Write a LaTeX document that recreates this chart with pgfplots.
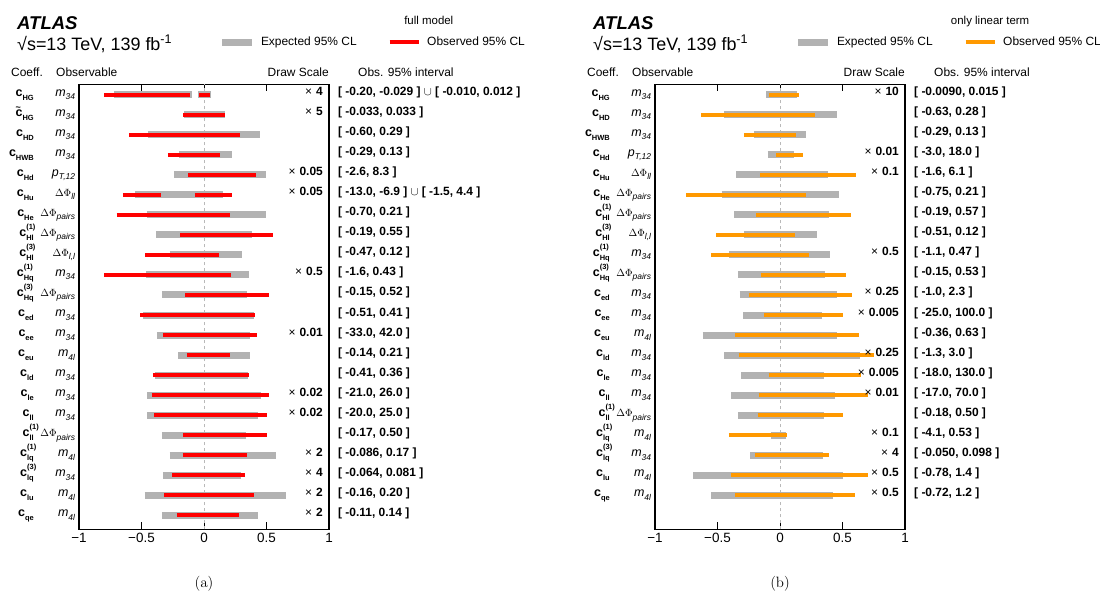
\RequirePackage{fix-cm}
\documentclass[border=0pt]{standalone}
\usepackage[no-math]{fontspec}
\setmainfont{Liberation Sans}
\usepackage{pgfplots}
\usepackage{pgfplotstable}
\pgfplotsset{compat=1.18}

\definecolor{expgray}{RGB}{178,178,178}
\definecolor{obsred}{RGB}{255,0,0}
\definecolor{obsorange}{RGB}{255,153,0}
\definecolor{zerogray}{RGB}{185,185,185}

% ---- label macros ----
\newcommand\bsub[1]{\raisebox{-4bp}{\fontsize{7.5}{8}\selectfont\bfseries #1}}
\newcommand\bsup[1]{\raisebox{7bp}{\fontsize{7.5}{8}\selectfont\bfseries #1}}
\newcommand\C[1]{{\fontsize{12.5}{13}\selectfont\bfseries c\bsub{#1}}}
\newcommand\CC[2]{{\fontsize{12.5}{13}\selectfont\bfseries c\rlap{\bsup{(#2)}}\bsub{#1}}}
\newcommand\Ct[1]{{\fontsize{12.5}{13}\selectfont\bfseries \rlap{\raisebox{5.5bp}{\fontsize{9}{9}\selectfont\textasciitilde}}c\bsub{#1}}}
\newcommand\isub[1]{\raisebox{-3.5bp}{\fontsize{8.5}{9}\selectfont\itshape #1}}
\newcommand\M[1]{{\fontsize{12.5}{13}\selectfont\itshape m\isub{#1}}}
\newcommand\PT{{\fontsize{12.5}{13}\selectfont\itshape p\isub{T,12}}}
\newcommand\DP[1]{{\fontsize{10.5}{11}\selectfont$\Delta\Phi$\isub{#1}}}
\newcommand\X[1]{{\fontsize{12}{13}\selectfont ×\hspace{4bp}\textbf{#1}}}

\newcommand\rowlab[5]{%
 \node[inner sep=0pt, anchor=base east, yshift=-1.5bp] at (axis cs:-1.36,#1) {#2};
 \node[inner sep=0pt, anchor=base east, yshift=-1.5bp] at (axis cs:-1.03,#1) {#3};
 \node[inner sep=0pt, anchor=base east, yshift=-1bp] at (axis cs:0.952,#1) {#4};
 \node[inner sep=0pt, anchor=base west, yshift=-1bp, font=\fontsize{12}{13}\selectfont\bfseries] at (axis cs:1.072,#1) {#5};%
}

\newcommand\header[1]{%
 \node[inner sep=0pt, anchor=base west, font=\fontsize{18.6}{20}\selectfont\bfseries\itshape] at (axis cs:-1.496,25.265) {ATLAS};
 \node[inner sep=0pt, anchor=base west, font=\fontsize{18}{20}\selectfont] at (axis cs:-1.496,24.23) {√s=13 TeV, 139 fb\textsuperscript{-1}};
 \node[inner sep=0pt, anchor=base east, font=\fontsize{11.5}{12}\selectfont] at (axis cs:1.996,25.53) {#1};
 \node[inner sep=0pt, anchor=base west, font=\fontsize{12}{13}\selectfont] at (axis cs:-1.544,22.93) {Coeff.};
 \node[inner sep=0pt, anchor=base west, font=\fontsize{12}{13}\selectfont] at (axis cs:-1.184,22.93) {Observable};
 \node[inner sep=0pt, anchor=base east, font=\fontsize{12}{13}\selectfont] at (axis cs:1.0,22.93) {Draw Scale};
 \node[inner sep=0pt, anchor=base west, font=\fontsize{12}{13}\selectfont] at (axis cs:1.232,22.93) {Obs. 95\% interval};%
}

\pgfplotsset{
 panel/.style={
  anchor=south west,
  width=250bp, height=445bp, scale only axis,
  xmin=-1, xmax=1, ymin=0.3, ymax=22.52,
  xtick={-1,-0.5,0,0.5,1},
  xticklabels={−1,−0.5,0,0.5,1},
  xticklabel style={font=\fontsize{13.5}{14}\selectfont},
  ytick=\empty,
  major tick length=7bp,
  every tick/.style={black, line width=0.9bp},
  axis line style={line width=1.4bp},
  clip=false,
  unbounded coords=jump,
  legend columns=2,
  legend cell align=left,
  legend image code/.code={\draw[##1] (0bp,0bp) -- (29.5bp,0bp);},
  legend style={draw=none, fill=none, inner sep=0pt, outer sep=0pt,
    at={(axis cs:0.116,24.63)}, anchor=west,
    font=\fontsize{12}{13}\selectfont, nodes={inner sep=0pt},
    /tikz/every odd column/.append style={column sep=6bp},
    /tikz/every even column/.append style={column sep=31bp}},
 },
 zeroline/.style={zerogray, line width=1bp, dash pattern=on 3bp off 3bp, forget plot},
 expbar/.style={expgray, line width=7bp},
}

\pgfplotstableread{
x y
-0.718 22
-0.099 22
nan nan
-0.048 22
0.056 22
nan nan
-0.16 21
0.17 21
nan nan
-0.445 20
0.451 20
nan nan
-0.197 19
0.22 19
nan nan
-0.242 18
0.499 18
nan nan
-0.55 17
0.152 17
nan nan
-0.456 16
0.499 16
nan nan
-0.386 15
0.38 15
nan nan
-0.276 14
0.301 14
nan nan
-0.462 13
0.358 13
nan nan
-0.338 12
0.341 12
nan nan
-0.485 11
0.40 11
nan nan
-0.377 10
0.366 10
nan nan
-0.206 9
0.366 9
nan nan
-0.394 8
0.355 8
nan nan
-0.456 7
0.454 7
nan nan
-0.456 6
0.434 6
nan nan
-0.338 5
0.338 5
nan nan
-0.276 4
0.572 4
nan nan
-0.33 3
0.296 3
nan nan
-0.476 2
0.654 2
nan nan
-0.338 1
0.434 1
}\expA

\pgfplotstableread{
x y
-0.80 22
-0.116 22
nan nan
-0.04 22
0.048 22
nan nan
-0.165 21
0.165 21
nan nan
-0.60 20
0.29 20
nan nan
-0.29 19
0.13 19
nan nan
-0.13 18
0.415 18
nan nan
-0.65 17
-0.345 17
nan nan
-0.075 17
0.22 17
nan nan
-0.70 16
0.21 16
nan nan
-0.19 15
0.55 15
nan nan
-0.47 14
0.12 14
nan nan
-0.80 13
0.215 13
nan nan
-0.15 12
0.52 12
nan nan
-0.51 11
0.41 11
nan nan
-0.33 10
0.42 10
nan nan
-0.14 9
0.21 9
nan nan
-0.41 8
0.36 8
nan nan
-0.42 7
0.52 7
nan nan
-0.40 6
0.50 6
nan nan
-0.17 5
0.50 5
nan nan
-0.172 4
0.34 4
nan nan
-0.256 3
0.324 3
nan nan
-0.32 2
0.40 2
nan nan
-0.22 1
0.28 1
}\obsA

\pgfplotstableread{
x y
-0.11 22
0.138 22
nan nan
-0.445 21
0.459 21
nan nan
-0.206 20
0.208 20
nan nan
-0.099 19
0.11 19
nan nan
-0.349 18
0.38 18
nan nan
-0.468 17
0.468 17
nan nan
-0.366 16
0.389 16
nan nan
-0.287 15
0.299 15
nan nan
-0.406 14
0.40 14
nan nan
-0.338 13
0.358 13
nan nan
-0.324 12
0.459 12
nan nan
-0.296 11
0.335 11
nan nan
-0.62 10
0.459 10
nan nan
-0.445 9
0.637 9
nan nan
-0.31 8
0.352 8
nan nan
-0.389 7
0.439 7
nan nan
-0.338 6
0.349 6
nan nan
-0.076 5
0.051 5
nan nan
-0.237 4
0.34 4
nan nan
-0.696 3
0.504 3
nan nan
-0.549 2
0.425 2
}\expB

\pgfplotstableread{
x y
-0.09 22
0.15 22
nan nan
-0.63 21
0.28 21
nan nan
-0.29 20
0.13 20
nan nan
-0.03 19
0.18 19
nan nan
-0.16 18
0.61 18
nan nan
-0.75 17
0.21 17
nan nan
-0.19 16
0.57 16
nan nan
-0.51 15
0.12 15
nan nan
-0.55 14
0.235 14
nan nan
-0.15 13
0.53 13
nan nan
-0.25 12
0.575 12
nan nan
-0.125 11
0.50 11
nan nan
-0.36 10
0.63 10
nan nan
-0.325 9
0.75 9
nan nan
-0.09 8
0.65 8
nan nan
-0.17 7
0.70 7
nan nan
-0.18 6
0.50 6
nan nan
-0.41 5
0.053 5
nan nan
-0.20 4
0.392 4
nan nan
-0.39 3
0.70 3
nan nan
-0.36 2
0.60 2
}\obsB

\begin{document}
\begin{tikzpicture}
\useasboundingbox (0,0) rectangle (1100bp,601bp);

% ================= panel (a) =================
\begin{axis}[panel, at={(79bp,71.7bp)}]
\addplot[zeroline] coordinates {(0,0.3) (0,22.52)};
\addplot[expbar] table[x=x,y=y] {\expA};
\addplot[obsred, line width=4bp] table[x=x,y=y] {\obsA};
\legend{Expected 95\% CL, Observed 95\% CL}
\header{full model}
\rowlab{22}{\C{HG}}{\M{34}}{\X{4}}{[ -0.20, -0.029 ] $\cup$ [ -0.010, 0.012 ]}
\rowlab{21}{\Ct{HG}}{\M{34}}{\X{5}}{[ -0.033, 0.033 ]}
\rowlab{20}{\C{HD}}{\M{34}}{}{[ -0.60, 0.29 ]}
\rowlab{19}{\C{HWB}}{\M{34}}{}{[ -0.29, 0.13 ]}
\rowlab{18}{\C{Hd}}{\PT}{\X{0.05}}{[ -2.6, 8.3 ]}
\rowlab{17}{\C{Hu}}{\DP{ll}}{\X{0.05}}{[ -13.0, -6.9 ] $\cup$ [ -1.5, 4.4 ]}
\rowlab{16}{\C{He}}{\DP{pairs}}{}{[ -0.70, 0.21 ]}
\rowlab{15}{\CC{Hl}{1}}{\DP{pairs}}{}{[ -0.19, 0.55 ]}
\rowlab{14}{\CC{Hl}{3}}{\DP{l,l}}{}{[ -0.47, 0.12 ]}
\rowlab{13}{\CC{Hq}{1}}{\M{34}}{\X{0.5}}{[ -1.6, 0.43 ]}
\rowlab{12}{\CC{Hq}{3}}{\DP{pairs}}{}{[ -0.15, 0.52 ]}
\rowlab{11}{\C{ed}}{\M{34}}{}{[ -0.51, 0.41 ]}
\rowlab{10}{\C{ee}}{\M{34}}{\X{0.01}}{[ -33.0, 42.0 ]}
\rowlab{9}{\C{eu}}{\M{4l}}{}{[ -0.14, 0.21 ]}
\rowlab{8}{\C{ld}}{\M{34}}{}{[ -0.41, 0.36 ]}
\rowlab{7}{\C{le}}{\M{34}}{\X{0.02}}{[ -21.0, 26.0 ]}
\rowlab{6}{\C{ll}}{\M{34}}{\X{0.02}}{[ -20.0, 25.0 ]}
\rowlab{5}{\CC{ll}{1}}{\DP{pairs}}{}{[ -0.17, 0.50 ]}
\rowlab{4}{\CC{lq}{1}}{\M{4l}}{\X{2}}{[ -0.086, 0.17 ]}
\rowlab{3}{\CC{lq}{3}}{\M{34}}{\X{4}}{[ -0.064, 0.081 ]}
\rowlab{2}{\C{lu}}{\M{4l}}{\X{2}}{[ -0.16, 0.20 ]}
\rowlab{1}{\C{qe}}{\M{4l}}{\X{2}}{[ -0.11, 0.14 ]}
\node[inner sep=0pt, anchor=base] at (axis cs:0,-2.59) {\fontsize{15}{16}\selectfont$(\mathrm{a})$};
\end{axis}

% ================= panel (b) =================
\begin{axis}[panel, at={(655bp,71.7bp)}]
\addplot[zeroline] coordinates {(0,0.3) (0,22.52)};
\addplot[expbar] table[x=x,y=y] {\expB};
\addplot[obsorange, line width=4bp] table[x=x,y=y] {\obsB};
\legend{Expected 95\% CL, Observed 95\% CL}
\header{only linear term}
\rowlab{22}{\C{HG}}{\M{34}}{\X{10}}{[ -0.0090, 0.015 ]}
\rowlab{21}{\C{HD}}{\M{34}}{}{[ -0.63, 0.28 ]}
\rowlab{20}{\C{HWB}}{\M{34}}{}{[ -0.29, 0.13 ]}
\rowlab{19}{\C{Hd}}{\PT}{\X{0.01}}{[ -3.0, 18.0 ]}
\rowlab{18}{\C{Hu}}{\DP{ll}}{\X{0.1}}{[ -1.6, 6.1 ]}
\rowlab{17}{\C{He}}{\DP{pairs}}{}{[ -0.75, 0.21 ]}
\rowlab{16}{\CC{Hl}{1}}{\DP{pairs}}{}{[ -0.19, 0.57 ]}
\rowlab{15}{\CC{Hl}{3}}{\DP{l,l}}{}{[ -0.51, 0.12 ]}
\rowlab{14}{\CC{Hq}{1}}{\M{34}}{\X{0.5}}{[ -1.1, 0.47 ]}
\rowlab{13}{\CC{Hq}{3}}{\DP{pairs}}{}{[ -0.15, 0.53 ]}
\rowlab{12}{\C{ed}}{\M{34}}{\X{0.25}}{[ -1.0, 2.3 ]}
\rowlab{11}{\C{ee}}{\M{34}}{\X{0.005}}{[ -25.0, 100.0 ]}
\rowlab{10}{\C{eu}}{\M{4l}}{}{[ -0.36, 0.63 ]}
\rowlab{9}{\C{ld}}{\M{34}}{\X{0.25}}{[ -1.3, 3.0 ]}
\rowlab{8}{\C{le}}{\M{34}}{\X{0.005}}{[ -18.0, 130.0 ]}
\rowlab{7}{\C{ll}}{\M{34}}{\X{0.01}}{[ -17.0, 70.0 ]}
\rowlab{6}{\CC{ll}{1}}{\DP{pairs}}{}{[ -0.18, 0.50 ]}
\rowlab{5}{\CC{lq}{1}}{\M{4l}}{\X{0.1}}{[ -4.1, 0.53 ]}
\rowlab{4}{\CC{lq}{3}}{\M{34}}{\X{4}}{[ -0.050, 0.098 ]}
\rowlab{3}{\C{lu}}{\M{4l}}{\X{0.5}}{[ -0.78, 1.4 ]}
\rowlab{2}{\C{qe}}{\M{4l}}{\X{0.5}}{[ -0.72, 1.2 ]}
\node[inner sep=0pt, anchor=base] at (axis cs:0,-2.59) {\fontsize{15}{16}\selectfont$(\mathrm{b})$};
\end{axis}
\end{tikzpicture}
\end{document}
